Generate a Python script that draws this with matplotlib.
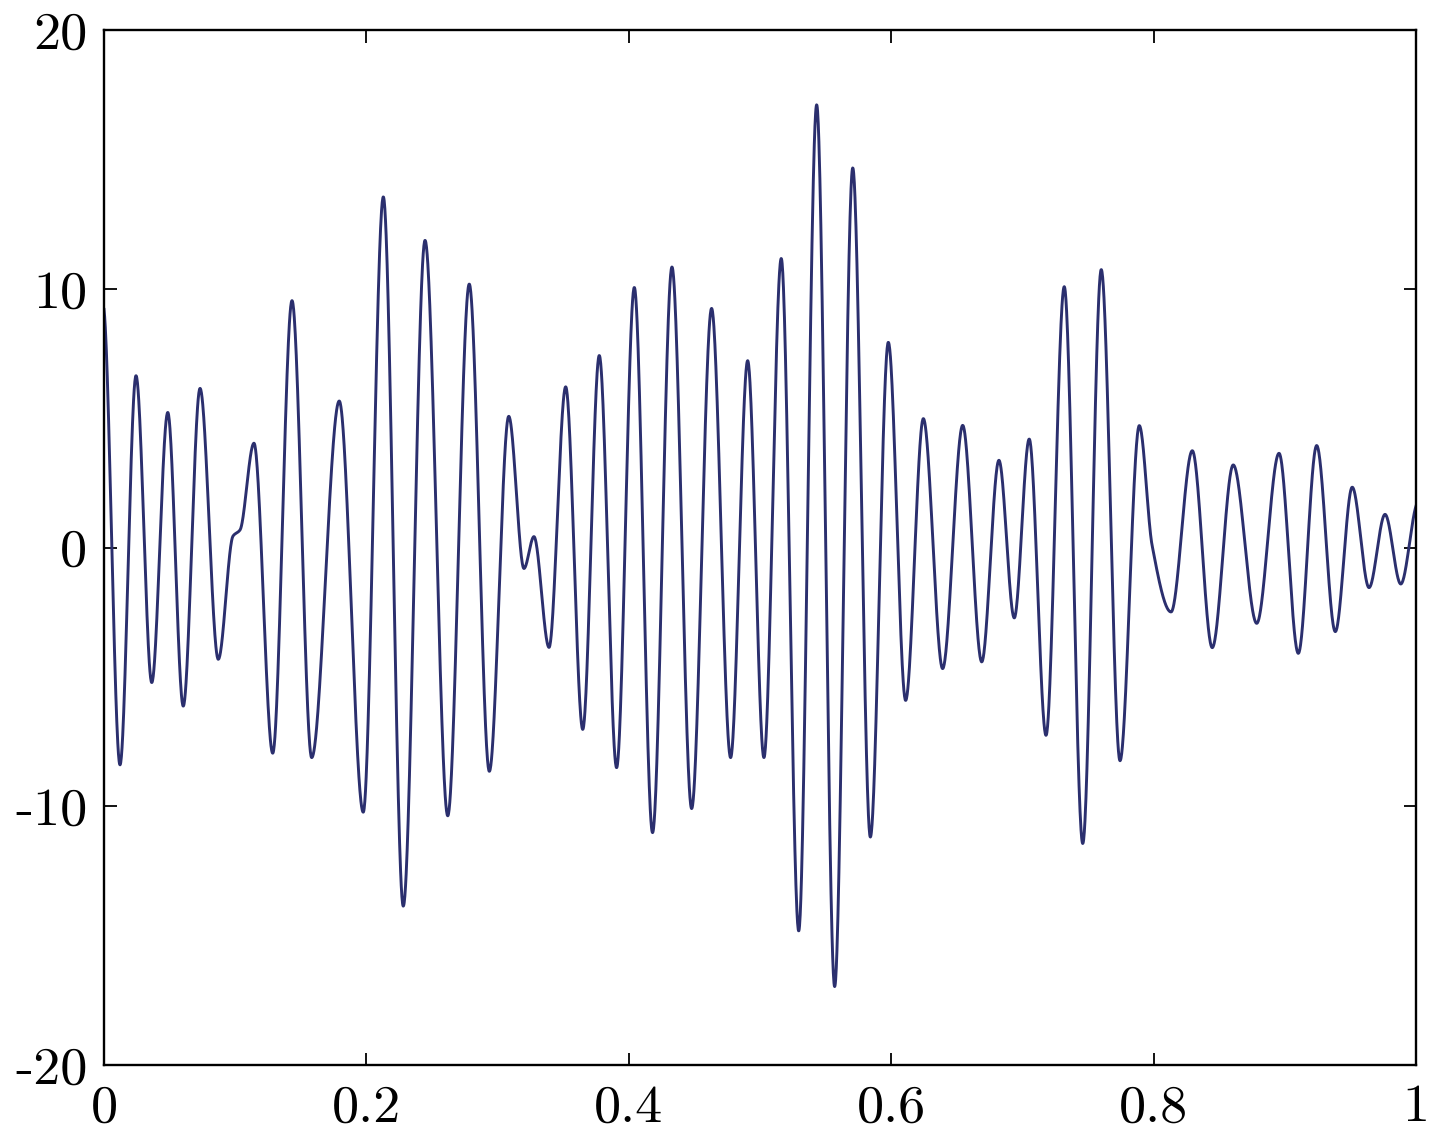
import numpy as np
import matplotlib
matplotlib.use("Agg")
import matplotlib.pyplot as plt

# Extrema / shape nodes of the signal
x_nodes = [0.0, 0.0122, 0.0244, 0.0364, 0.0486, 0.0604, 0.0732, 0.0871, 0.0983, 0.1037,
           0.1143, 0.1286, 0.1433, 0.1583, 0.1793, 0.1976, 0.2129, 0.2281, 0.2447, 0.2620,
           0.2784, 0.2937, 0.3085, 0.3201, 0.3277, 0.3392, 0.3519, 0.3649, 0.3775, 0.3907,
           0.4042, 0.4181, 0.4329, 0.4479, 0.4631, 0.4776, 0.4906, 0.5030, 0.5162, 0.5295,
           0.5432, 0.5569, 0.5707, 0.5841, 0.5978, 0.6110, 0.6245, 0.6392, 0.6545, 0.6690,
           0.6821, 0.6938, 0.7052, 0.7180, 0.7319, 0.7460, 0.7601, 0.7744, 0.7891, 0.7988,
           0.8133, 0.8295, 0.8447, 0.8607, 0.8786, 0.8956, 0.9103, 0.9243, 0.9385,
           0.9514, 0.9642, 0.9764, 0.9884, 1.0]
y_nodes = [9.2, -8.4, 6.64, -5.22, 5.22, -6.13, 6.15, -4.32, 0.44, 0.68,
           4.03, -7.95, 9.54, -8.12, 5.66, -10.23, 13.55, -13.86, 11.87, -10.37,
           10.18, -8.65, 5.07, -0.81, 0.42, -3.86, 6.21, -7.03, 7.42, -8.51,
           10.05, -11.02, 10.84, -10.09, 9.24, -8.12, 7.22, -8.12, 11.17, -14.82,
           17.11, -16.97, 14.67, -11.19, 7.93, -5.91, 4.98, -4.68, 4.72, -4.42,
           3.37, -2.72, 4.19, -7.26, 10.08, -11.44, 10.74, -8.24, 4.71, 0.1,
           -2.49, 3.74, -3.87, 3.19, -2.93, 3.64, -4.09, 3.94, -3.25,
           2.33, -1.55, 1.28, -1.41, 1.6]

x_ticks = [0, 0.2, 0.4, 0.6, 0.8, 1]
x_ticklabels = ["0", "0.2", "0.4", "0.6", "0.8", "1"]
y_ticks = [-20, -10, 0, 10, 20]
y_ticklabels = ["-20", "-10", "0", "10", "20"]


def pchip(x, y, xs):
    x = np.asarray(x, float)
    y = np.asarray(y, float)
    h = np.diff(x)
    d = np.diff(y) / h
    m = np.zeros_like(y)
    for k in range(1, len(x) - 1):
        if d[k - 1] * d[k] <= 0:
            m[k] = 0.0
        else:
            w1 = 2 * h[k] + h[k - 1]
            w2 = h[k] + 2 * h[k - 1]
            m[k] = (w1 + w2) / (w1 / d[k - 1] + w2 / d[k])
    m[0] = 0.3 * d[0]
    m[-1] = 0.6 * d[-1]
    idx = np.clip(np.searchsorted(x, xs) - 1, 0, len(x) - 2)
    t = (xs - x[idx]) / h[idx]
    h00 = 2 * t**3 - 3 * t**2 + 1
    h10 = t**3 - 2 * t**2 + t
    h01 = -2 * t**3 + 3 * t**2
    h11 = t**3 - t**2
    return (h00 * y[idx] + h10 * h[idx] * m[idx] + h01 * y[idx + 1]
            + h11 * h[idx] * m[idx + 1])


xs = np.linspace(0, 1, 4000)
ys = pchip(x_nodes, y_nodes, xs)

fig = plt.figure(figsize=(14.48, 11.42), dpi=100)
ax = fig.add_axes([104 / 1448, 77 / 1142, 1312 / 1448, 1035 / 1142])
ax.plot(xs, ys, color="#2b2f6e", lw=2.1)
ax.set_xlim(0, 1)
ax.set_ylim(-20, 20)
ax.set_xticks(x_ticks)
ax.set_xticklabels(x_ticklabels)
ax.set_yticks(y_ticks)
ax.set_yticklabels(y_ticklabels)
for lab in ax.get_xticklabels() + ax.get_yticklabels():
    lab.set_fontfamily("cmr10")
    lab.set_fontsize(39)
ax.tick_params(direction="in", length=9, width=1.3, top=True, right=True,
               color="black")
ax.tick_params(axis="x", pad=14)
ax.tick_params(axis="y", pad=12)
for s in ax.spines.values():
    s.set_linewidth(1.7)
fig.savefig("out.png", dpi=100)
